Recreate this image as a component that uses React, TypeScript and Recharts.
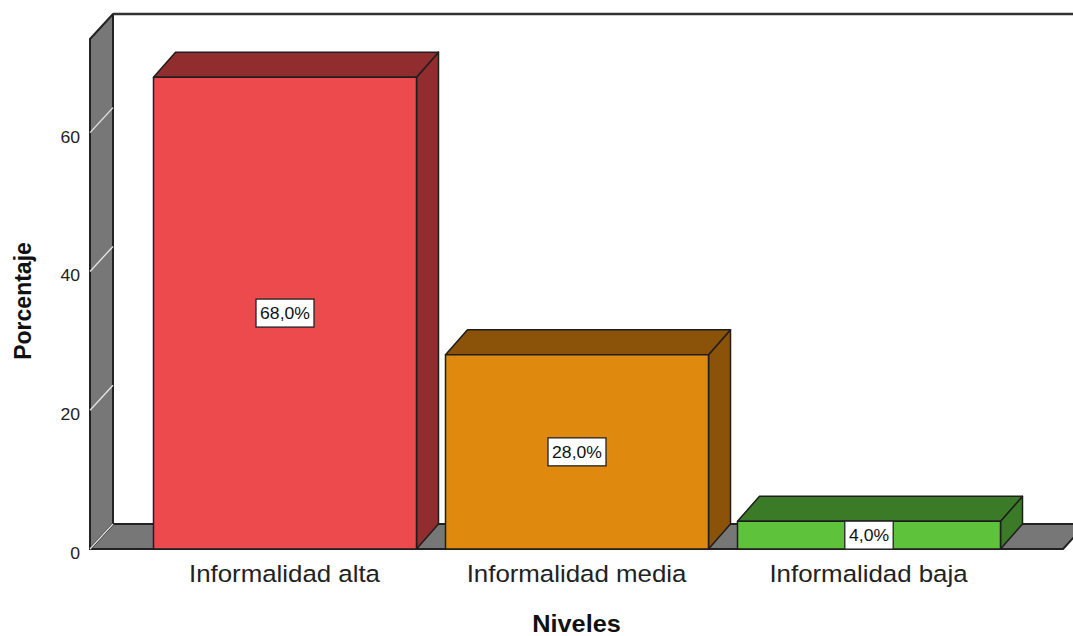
import { BarChart, Bar, XAxis, YAxis, ReferenceArea, LabelList } from "recharts";

const categories = ["Informalidad alta", "Informalidad media", "Informalidad baja"];
const percentages = [68.0, 28.0, 4.0];
const yTicks = [0, 20, 40, 60];

const frontColors = ["#EC4A4D", "#E0890F", "#5EC23B"];
const topColors = ["#912C2F", "#8A5309", "#3B7B27"];

const data = categories.map((name, i) => ({ name, value: percentages[i] }));

// 3D depth offsets
const DX = 23;
const DY = 25;
const PAD = 48.5; // category axis padding, walls span it too
const FONT = "'Liberation Sans', Arial, sans-serif";
const STRETCH = 1.1;

const Bar3D = (props: any) => {
    const { x, y, width, height, index } = props;
    const front = frontColors[index % frontColors.length];
    const dark = topColors[index % topColors.length];
    const bx = DX - 1;
    return (
        <g stroke="#1e1e1e" strokeWidth={1.5} strokeLinejoin="round">
            <polygon
                points={`${x + width},${y} ${x + width + bx},${y - DY} ${x + width + bx},${y + height - DY} ${x + width},${y + height}`}
                fill={dark}
            />
            <polygon
                points={`${x},${y} ${x + bx},${y - DY} ${x + width + bx},${y - DY} ${x + width},${y}`}
                fill={dark}
            />
            <rect x={x} y={y} width={width} height={height} fill={front} />
        </g>
    );
};

const Walls = (props: any) => {
    const { y, height } = props;
    const x = props.x - PAD;
    const width = props.width + 2 * PAD;
    const bottom = y + height;
    return (
        <g>
            <polygon
                points={`${x},${bottom} ${x + width},${bottom} ${x + width + DX},${bottom - DY} ${x + DX},${bottom - DY}`}
                fill="#777777"
                stroke="#222"
                strokeWidth={2}
                strokeLinejoin="round"
            />
            <polygon
                points={`${x},${bottom} ${x},${y} ${x + DX},${y - DY} ${x + DX},${bottom - DY}`}
                fill="#777777"
                stroke="#222"
                strokeWidth={2}
                strokeLinejoin="round"
            />
            <line x1={x + DX} y1={y - DY} x2={x + width + DX} y2={y - DY} stroke="#333" strokeWidth={2.5} />
        </g>
    );
};

const YTick = (props: any) => {
    const { x, y, payload } = props;
    const wallX = x + 8;
    return (
        <g>
            <line x1={wallX} y1={y} x2={wallX + DX} y2={y - DY} stroke="#e6e6e6" strokeWidth={1.3} />
            <g transform={`translate(${x - 2},${y + 10}) scale(${STRETCH},1)`}>
                <text x={0} y={0} textAnchor="end" fontSize={16} fill="#222" fontFamily={FONT}>
                    {payload.value}
                </text>
            </g>
        </g>
    );
};

const XTick = (props: any) => {
    const { x, y, payload } = props;
    return (
        <g transform={`translate(${x},${y + 25}) scale(${STRETCH},1)`}>
            <text x={0} y={0} textAnchor="middle" fontSize={23.5} fill="#222" fontFamily={FONT}>
                {payload.value}
            </text>
        </g>
    );
};

const ValueLabel = (props: any) => {
    const { x, y, width, height, value } = props;
    const text = `${Number(value).toFixed(1).replace(".", ",")}%`;
    const boxW = text.length * 9.6 + 10;
    const boxH = 28;
    const cx = x + width / 2;
    const cy = y + height / 2;
    return (
        <g>
            <rect
                x={cx - boxW / 2}
                y={cy - boxH / 2}
                width={boxW}
                height={boxH}
                fill="#ffffff"
                stroke="#222"
                strokeWidth={1.3}
            />
            <g transform={`translate(${cx},${cy + 6}) scale(${STRETCH},1)`}>
                <text x={0} y={0} textAnchor="middle" fontSize={16} fill="#111" fontFamily={FONT}>
                    {text}
                </text>
            </g>
        </g>
    );
};

const XLabel = (props: any) => {
    const { viewBox } = props;
    const cx = viewBox.x + viewBox.width / 2;
    return (
        <g transform={`translate(${cx},${viewBox.y + 83}) scale(${STRETCH},1)`}>
            <text x={0} y={0} textAnchor="middle" fontSize={23} fontWeight="bold" fill="#111" fontFamily={FONT}>
                Niveles
            </text>
        </g>
    );
};

const YLabel = (props: any) => {
    const { viewBox } = props;
    const cy = viewBox.y + viewBox.height / 2 + 7;
    return (
        <text
            x={0}
            y={0}
            transform={`translate(31,${cy}) rotate(-90)`}
            textAnchor="middle"
            fontSize={23}
            fontWeight="bold"
            fill="#111"
            fontFamily={FONT}
        >
            Porcentaje
        </text>
    );
};

export default function App() {
    return (
        <div style={{ position: "absolute", left: 0, top: 0, width: 1073, height: 636, background: "#fff" }}>
            <BarChart
                width={1073}
                height={636}
                data={data}
                margin={{ top: 39, right: 10, bottom: 0, left: 0 }}
                barSize={263}
            >
                <ReferenceArea y1={0} y2={73.5} shape={Walls} ifOverflow="visible" zIndex={-10} />
                <XAxis
                    dataKey="name"
                    height={87}
                    axisLine={false}
                    tickLine={false}
                    padding={{ left: PAD, right: PAD }}
                    tick={XTick}
                    interval={0}
                    label={<XLabel />}
                />
                <YAxis
                    width={90}
                    domain={[0, 73.5]}
                    ticks={yTicks}
                    axisLine={false}
                    tickLine={false}
                    tick={YTick}
                    label={<YLabel />}
                />
                <Bar dataKey="value" shape={Bar3D} isAnimationActive={false}>
                    <LabelList dataKey="value" content={ValueLabel} />
                </Bar>
            </BarChart>
        </div>
    );
}
